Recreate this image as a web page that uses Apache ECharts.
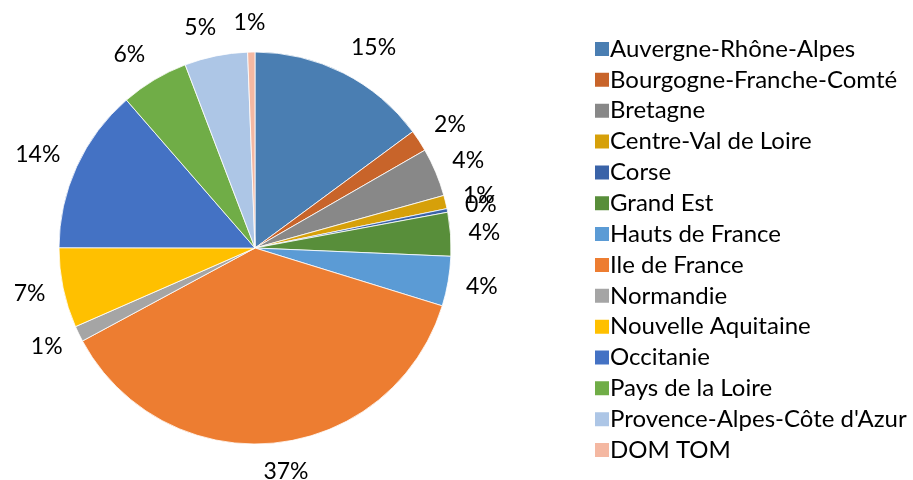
<!DOCTYPE html>
<html><head><meta charset="utf-8">
<script src="https://cdn.jsdelivr.net/npm/echarts@6/dist/echarts.min.js"></script>
<style>html,body{margin:0;padding:0;background:#fff}#c{width:913px;height:480px}</style>
</head><body><div id="c"></div>
<script>
const regions = ["Auvergne-Rhône-Alpes","Bourgogne-Franche-Comté","Bretagne","Centre-Val de Loire","Corse","Grand Est","Hauts de France","Ile de France","Normandie","Nouvelle Aquitaine","Occitanie","Pays de la Loire","Provence-Alpes-Côte d'Azur","DOM TOM"];
const shares = [14.9,1.8,4.0,1.1,0.3,3.6,4.1,37.4,1.3,6.6,13.6,5.6,5.2,0.6];
const colors = ["#4A7EB2","#C8642A","#888888","#D6A00A","#3A63A8","#588E3A","#5B9BD5","#ED7D31","#A5A5A5","#FFC000","#4472C4","#70AD47","#ADC6E6","#F4B8A2"];

const CX = 255, CY = 248, R = 196, GAP = 18;
const total = shares.reduce((a,b)=>a+b,0);
const midAngles = [];
let acc = 0;
shares.forEach(v => { midAngles.push((acc + v/2)/total*2*Math.PI); acc += v; });

const FONT = 'Lato';
const chart = echarts.init(document.getElementById('c'), null, {renderer:'canvas'});
chart.setOption({
  animation:false,
  textStyle:{fontFamily:FONT},
  legend:{
    orient:'vertical', left:588, top:32,
    icon:'rect', itemWidth:16, itemHeight:16, itemGap:6.85,
    textStyle:{fontFamily:FONT, fontSize:24, color:'#000', lineHeight:24, padding:[0,0,0,-5]},
    data: regions
  },
  series:[{
    type:'pie', center:[CX,CY], radius:R, startAngle:90, clockwise:true,
    avoidLabelOverlap:false, minAngle:0,
    itemStyle:{borderColor:'#fff', borderWidth:0.8},
    label:{show:true, position:'outside', fontFamily:FONT, fontSize:23, lineHeight:22, color:'#000',
      formatter: p => Math.round(p.value/total*100) + '%'},
    labelLine:{show:false, length:10, length2:0},
    emphasis:{disabled:true},
    labelLayout: function(params){
      const t = midAngles[params.dataIndex];
      const w = params.labelRect.width, h = 22;
      const s = Math.sin(t), c = Math.cos(t);
      const px = CX + (R+GAP)*s, py = CY - (R+GAP)*c;
      return {x: px + Math.tanh(5*s)*w/2, y: py - c*h/2, align:'center', verticalAlign:'middle'};
    },
    data: regions.map((n,i)=>({name:n, value:shares[i], itemStyle:{color:colors[i]}}))
  }]
});
</script></body></html>
